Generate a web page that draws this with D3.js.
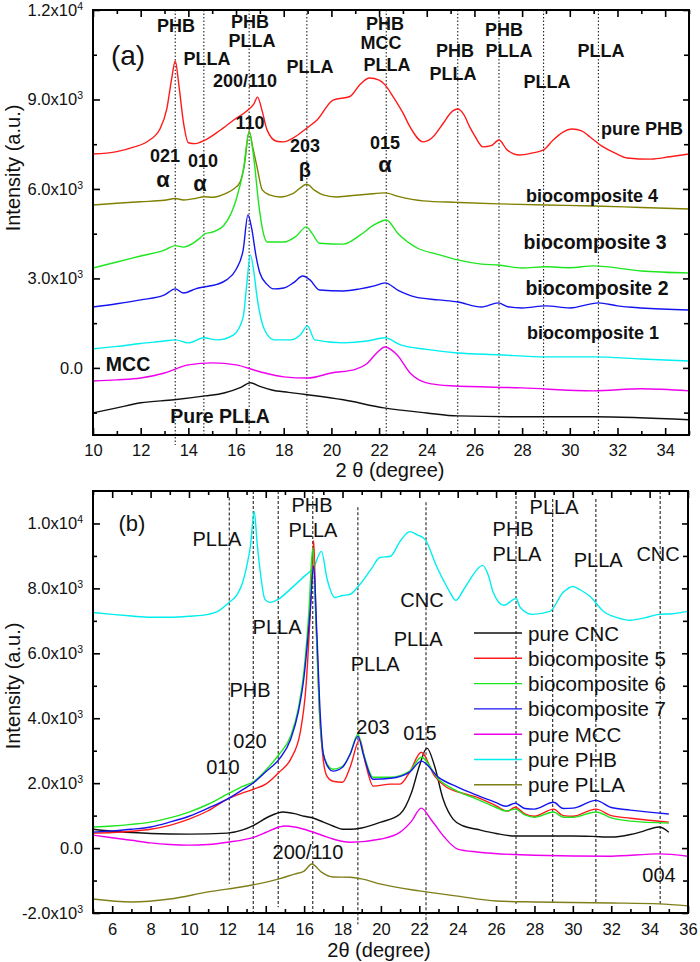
<!DOCTYPE html>
<html>
<head>
<meta charset="utf-8">
<script src="https://cdn.jsdelivr.net/npm/d3@7"></script>
<style>
html,body{margin:0;padding:0;background:#fff;}
svg{display:block;font-family:"Liberation Sans",Arial,sans-serif;}
</style>
</head>
<body>
<svg id="chart" width="700" height="962"></svg>
<script>
// ---------------- DATA: panel (a) ----------------
const xTicksA = [10,12,14,16,18,20,22,24,26,28,30,32,34];
const xMinorA = [11,13,15,17,19,21,23,25,27,29,31,33,35];
const yTicksA = [0,3000,6000,9000,12000];
const yMinorA = [-1500,1500,4500,7500,10500];

const purePHB_a = [[10,7170],[11,7250],[11.7,7400],[12.3,7600],[12.8,8000],[13.1,8700],[13.3,9700],[13.45,10290],[13.6,9500],[13.8,8200],[14.0,7550],[14.3,7520],[14.7,7640],[15.3,7950],[15.9,8310],[16.5,8650],[16.75,8850],[16.9,9080],[17.1,8600],[17.3,7980],[17.7,7600],[18.0,7580],[18.4,7710],[18.97,8040],[19.4,8310],[20.07,8980],[20.78,9100],[21.2,9500],[21.6,9720],[22.0,9650],[22.25,9490],[22.6,9080],[23.0,8550],[23.3,8080],[23.85,7580],[24.2,7700],[24.7,8210],[25.0,8550],[25.3,8680],[25.55,8500],[25.8,8080],[26.0,7800],[26.36,7410],[26.7,7450],[27.03,7640],[27.37,7310],[27.9,7140],[28.4,7200],[28.9,7310],[29.3,7640],[29.7,7900],[30.1,8010],[30.5,7950],[30.85,7740],[31.4,7410],[31.9,7200],[32.4,7040],[33.4,7000],[34.2,7080],[35,7170]];
const bio4_a = [[10,5460],[11,5520],[12,5570],[13,5620],[13.45,5680],[13.8,5630],[14.3,5680],[14.65,5740],[15,5720],[15.6,5860],[15.9,6000],[16.17,6230],[16.35,6800],[16.55,7940],[16.7,7400],[16.88,6740],[17.1,5970],[17.4,5800],[17.85,5730],[18.4,5850],[18.97,6160],[19.3,5950],[19.65,5800],[20.2,5730],[20.78,5770],[21.5,5820],[22.25,5870],[22.8,5750],[23.85,5600],[25.3,5550],[27,5500],[29,5460],[31,5430],[33,5380],[35,5330]];
const bio3_a = [[10,3350],[11,3550],[12,3750],[13,3950],[13.45,4100],[13.8,4050],[14.5,4360],[14.7,4500],[15.0,4550],[15.5,4790],[16.0,5630],[16.3,6600],[16.55,7900],[16.75,7000],[16.95,5500],[17.15,4500],[17.3,4220],[18.0,4220],[18.5,4400],[18.95,4730],[19.2,4500],[19.5,4180],[20.5,4150],[21.2,4450],[21.8,4800],[22.3,4960],[22.8,4500],[23.6,4020],[24.5,3800],[25.3,3620],[26.3,3480],[27.0,3450],[28,3350],[29,3390],[30,3360],[31,3420],[33,3250],[35,3180]];
const bio2_a = [[10,2040],[11,2150],[12,2280],[13,2450],[13.45,2650],[13.8,2510],[14.3,2650],[14.7,2720],[15.2,2800],[15.6,2950],[16.0,3300],[16.3,3960],[16.5,5130],[16.65,4700],[16.85,3700],[17.0,3180],[17.3,2800],[17.57,2650],[18.0,2680],[18.4,2850],[18.8,3080],[19.1,2950],[19.5,2610],[20.5,2580],[21.2,2650],[21.8,2750],[22.25,2850],[22.8,2600],[23.5,2380],[24.5,2280],[25.3,2210],[26.3,2040],[27.0,2180],[27.4,2050],[28,2010],[29,2080],[30,2010],[31.2,2180],[32,2080],[33,2010],[35,1940]];
const bio1_a = [[10,640],[11,720],[12,820],[13,900],[13.45,940],[14,840],[14.65,1010],[15.2,940],[15.9,1110],[16.3,1710],[16.45,2800],[16.6,3790],[16.75,3200],[16.88,2380],[17.2,1270],[17.6,940],[18.3,940],[18.7,1110],[19.0,1410],[19.3,940],[20.5,840],[21.5,900],[22.25,1010],[22.9,770],[24,620],[25.3,500],[27,440],[29,370],[31,370],[33,300],[35,230]];
const mcc_a = [[10,-440],[11,-400],[12,-340],[13,-170],[14,100],[15,170],[16,100],[17,-130],[18,-300],[19,-340],[20,-170],[21,-50],[21.5,150],[21.9,500],[22.25,700],[22.75,440],[23.3,-170],[24,-500],[25,-600],[28,-670],[31,-770],[33,-700],[35,-770]];
const pureLA_a = [[10,-1510],[11,-1340],[12,-1170],[13.4,-1070],[14.7,-940],[15.5,-840],[16.2,-650],[16.6,-500],[17,-620],[17.5,-740],[18.2,-820],[19,-900],[20.5,-1070],[22.2,-1340],[24,-1510],[25.3,-1610],[28,-1640],[31,-1640],[35,-1740]];

const guidesA = [13.45,14.65,16.55,18.97,22.3,25.3,27.03,28.9,31.2];

const labelsA = [
  ["PHB",13.48,11263],["PLLA",14.78,10157],["PHB",16.59,11397],["PLLA",16.67,10760],
  ["200/110",16.38,9419],["110",16.59,8011],["PLLA",19.10,9888],["203",18.89,7240],
  ["021",13.02,6905],["010",14.61,6738],
  ["PHB",22.25,11330],["MCC",22.08,10693],["PLLA",22.33,9955],["015",22.25,7341],
  ["PHB",25.18,10425],["PLLA",25.10,9654],["PHB",27.24,11129],["PLLA",27.45,10425],
  ["PLLA",29.04,9386],["PLLA",31.31,10425],
  ["pure PHB",33.03,7810],["biocomposite 4",30.93,5564],["biocomposite 1",30.97,972]
];
const greekA = [["α",12.94,6067],["α",14.49,5933],["α",22.25,6570]];
const betaA = [["β",18.89,6402]];
const bigLabelsA = [["biocomposite 3",31.06,3989],["biocomposite 2",31.14,2447],["MCC",11.47,-101],["Pure PLLA",15.33,-1844]];

// ---------------- DATA: panel (b) ----------------
const xTicksB = [6,8,10,12,14,16,18,20,22,24,26,28,30,32,34,36];
const xMinorB = [5,7,9,11,13,15,17,19,21,23,25,27,29,31,33,35];
const yTicksB = [-2000,0,2000,4000,6000,8000,10000];
const yMinorB = [-1000,1000,3000,5000,7000,9000];

const purePHB_b = [[5,7260],[6,7200],[7,7150],[8,7110],[9,7110],[10,7140],[11,7200],[11.5,7290],[12.1,7570],[12.5,7800],[12.8,8190],[13.05,8800],[13.2,9290],[13.4,10370],[13.55,9400],[13.7,8580],[13.96,7660],[14.2,7570],[14.64,7660],[15.27,7970],[16.0,8370],[16.5,8650],[16.9,9140],[17.2,8280],[17.6,7720],[18.0,7780],[18.4,7820],[18.9,8120],[19.5,8600],[19.95,8950],[20.5,8990],[21.0,9450],[21.5,9750],[21.9,9650],[22.3,9510],[22.9,8680],[23.3,8200],[23.6,7880],[23.9,7630],[24.3,7950],[24.65,8280],[25.3,8710],[25.6,8400],[25.85,7880],[26.4,7480],[27.05,7690],[27.25,7420],[27.9,7200],[28.8,7290],[29.5,7880],[30.0,8060],[30.4,7950],[30.9,7750],[31.6,7290],[32.3,7100],[33.0,7020],[33.8,7100],[34.5,7200],[35.2,7220],[36,7290]];
const pureCNC_b = [[5,580],[6,520],[7,480],[8,450],[10,430],[12,460],[12.8,560],[13.4,710],[14.2,980],[14.9,1110],[15.5,1060],[16.0,980],[16.5,920],[17.0,800],[17.5,680],[18,580],[18.4,580],[19,620],[20,800],[21,1050],[21.6,1720],[22.0,2520],[22.4,3080],[22.8,2520],[23.24,1510],[23.76,890],[24.3,680],[25,580],[26,450],[27,370],[28.5,370],[30,370],[31,360],[32,340],[33,420],[33.5,490],[34.5,650],[35,490]];
const bio5_b = [[5,460],[6,480],[7,520],[8,580],[9,700],[10,890],[11,1150],[12,1510],[12.8,1700],[13.4,1820],[14.0,1970],[14.7,2340],[15.3,2740],[15.8,3570],[16.1,5000],[16.35,7600],[16.5,9480],[16.62,7000],[16.8,4200],[17.0,2700],[17.2,2200],[17.5,2060],[18.0,2030],[18.4,2500],[18.9,3350],[19.2,2600],[19.6,1910],[20.5,1970],[21.0,1970],[21.5,2340],[22.1,2950],[22.8,2220],[23.4,1880],[24.2,1700],[25.0,1570],[26.0,1300],[26.6,1140],[27.0,1260],[27.5,1050],[28.0,980],[29.0,1200],[29.5,1000],[30.0,980],[31.2,1200],[32,1000],[33,920],[35,800]];
const bio6_b = [[5,650],[6,680],[7,730],[8,800],[9,930],[10,1110],[11,1350],[12,1660],[12.8,1900],[13.4,2060],[14.0,2400],[14.7,2890],[15.3,3450],[15.7,4300],[16.0,5500],[16.25,7300],[16.45,9260],[16.6,7200],[16.8,4200],[17.0,2900],[17.3,2500],[17.5,2430],[18.0,2520],[18.4,2900],[18.8,3510],[19.1,2900],[19.6,2180],[20.5,2180],[21.5,2370],[22.1,2800],[23.0,2120],[24.0,1750],[25.0,1510],[26.0,1250],[26.5,1140],[27.0,1200],[27.5,1020],[28.0,950],[29.0,1110],[29.5,950],[30.0,950],[31.2,1110],[32,930],[33,830],[35,770]];
const bio7_b = [[5,490],[6,530],[7,580],[8,650],[9,800],[10,980],[11,1230],[12,1510],[12.8,1800],[13.4,2030],[14.0,2350],[14.7,2740],[15.3,3350],[15.7,4200],[16.0,5300],[16.3,7200],[16.5,8700],[16.65,6800],[16.85,4000],[17.0,2900],[17.3,2450],[17.5,2370],[18.0,2490],[18.4,2900],[18.8,3450],[19.1,2850],[19.6,2120],[20.5,2150],[21.5,2340],[22.1,2680],[23.0,2180],[24.0,1880],[25.0,1630],[26.0,1400],[26.5,1290],[27.0,1380],[27.5,1220],[28.0,1200],[29.0,1410],[29.5,1220],[30.0,1230],[31.2,1470],[32,1250],[33,1170],[35,1050]];
const pureMCC_b = [[5,400],[6,320],[7,240],[8,160],[9,110],[10,90],[11,110],[12,180],[13.4,340],[14.0,480],[14.7,650],[15.0,680],[15.5,650],[16,580],[17,380],[17.5,280],[18.4,180],[20,280],[21,490],[21.6,830],[22.1,1230],[22.6,890],[23.3,340],[24,-30],[25,-120],[28,-220],[32,-250],[34.5,-180],[36,-250]];
const pureLA_b = [[5,-1570],[7,-1660],[9,-1570],[11,-1350],[13,-1170],[14.7,-950],[15.5,-800],[16.0,-710],[16.4,-490],[16.9,-740],[17.5,-890],[18.4,-900],[19,-950],[20,-1110],[22,-1320],[24,-1480],[26,-1630],[28,-1660],[32,-1690],[34.5,-1720],[36,-1780]];

const guidesB = [[12.1,10800,-1100],[13.35,11000,-2000],[14.65,11000,-1820],[16.45,11000,-2000],[18.8,10500,-2350],[22.35,10650,-2650],[27.04,11000,-1720],[28.95,10750,-1720],[31.2,10750,-1720],[34.55,11000,-1720]];

const labelsB = [
  ["PLLA",11.46,9293],["PHB",16.41,10339],["PLLA",16.46,9569],["PLLA",14.59,6585],
  ["PHB",13.18,4646],["020",13.18,3077],["010",11.77,2277],["200/110",16.20,-338],
  ["203",19.59,3508],["015",22.04,3323],["CNC",22.14,7416],["PLLA",21.94,6216],
  ["PLLA",19.70,5446],["PHB",26.89,9600],["PLLA",27.09,8831],["PLLA",29.02,10277],
  ["PLLA",31.32,8646],["CNC",34.44,8831],["004",34.49,-1046]
];

const legendNames = ["pure CNC","biocomposite 5","biocomposite 6","biocomposite 7","pure MCC","pure PHB","pure PLLA"];

// ---------------- STYLES ----------------
const C = {red:"#ff1a1a", olive:"#808000", green:"#1ee61e", blue:"#1414f0", cyan:"#00eeee", magenta:"#ee00ee", black:"#111111", oliveB:"#7f7f1a"};

const svg = d3.select("#chart");
const FONT = "'Liberation Sans', Arial, sans-serif";

function fmtSci(sel){
  sel.each(function(d){
    const t = d3.select(this);
    t.text(null);
    if (d === 0){ t.text("0.0"); return; }
    const e = Math.floor(Math.log10(Math.abs(d)));
    const m = (d/Math.pow(10,e)).toFixed(1);
    t.append("tspan").text(m + "x10");
    t.append("tspan").attr("font-size","10.5px").attr("dy","-0.55em").text(e);
  });
}

function panel(opt){
  const g = svg.append("g");
  const x = d3.scaleLinear().domain(opt.xd).range([opt.l, opt.r]);
  const y = d3.scaleLinear().domain(opt.yd).range([opt.b, opt.t]);
  const w = opt.r - opt.l, h = opt.b - opt.t;

  opt.guides(g, x, y);

  const line = d3.line().x(d=>x(d[0])).y(d=>y(d[1])).curve(d3.curveMonotoneX);
  opt.series.forEach(s=>{
    g.append("path").datum(s.data).attr("d", line)
      .attr("fill","none").attr("stroke", s.color).attr("stroke-width",1.4).attr("stroke-linejoin","round");
  });

  const fs = "16.5px";
  const ax = (gen, tr) => {
    const a = g.append("g").attr("transform", tr).call(gen);
    a.select(".domain").remove();
    a.selectAll(".tick line").attr("stroke","#000").attr("stroke-width",1.6);
    a.selectAll("text").attr("font-size",fs).attr("font-family",FONT).attr("fill","#111");
    return a;
  };
  ax(d3.axisBottom(x).tickValues(opt.xMaj).tickSizeInner(-7).tickSizeOuter(0).tickPadding(opt.xpad).tickFormat(d3.format("d")), `translate(0,${opt.b})`);
  ax(d3.axisBottom(x).tickValues(opt.xMin).tickSizeInner(-4).tickSizeOuter(0).tickFormat(""), `translate(0,${opt.b})`);
  ax(d3.axisTop(x).tickValues(opt.xMaj).tickSizeInner(-7).tickSizeOuter(0).tickFormat(""), `translate(0,${opt.t})`);
  ax(d3.axisTop(x).tickValues(opt.xMin).tickSizeInner(-4).tickSizeOuter(0).tickFormat(""), `translate(0,${opt.t})`);
  const yl = ax(d3.axisLeft(y).tickValues(opt.yMaj).tickSizeInner(-7).tickSizeOuter(0).tickPadding(10), `translate(${opt.l},0)`);
  yl.selectAll(".tick text").call(fmtSci);
  ax(d3.axisLeft(y).tickValues(opt.yMin).tickSizeInner(-4).tickSizeOuter(0).tickFormat(""), `translate(${opt.l},0)`);
  ax(d3.axisRight(y).tickValues(opt.yMaj).tickSizeInner(-6).tickSizeOuter(0).tickFormat(""), `translate(${opt.r},0)`);
  ax(d3.axisRight(y).tickValues(opt.yMin).tickSizeInner(-5).tickSizeOuter(0).tickFormat(""), `translate(${opt.r},0)`);

  g.append("rect").attr("x",opt.l).attr("y",opt.t).attr("width",w).attr("height",h)
    .attr("fill","none").attr("stroke","#000").attr("stroke-width",2);

  g.append("text").attr("transform",`translate(${opt.ytx},${opt.yty}) rotate(-90)`)
    .attr("text-anchor","middle").attr("font-size","20px").attr("font-family",FONT).attr("fill","#111")
    .text("Intensity (a.u.)");
  g.append("text").attr("x",opt.xtx).attr("y",opt.xty).attr("text-anchor","middle")
    .attr("font-size","20px").attr("font-family",FONT).attr("fill","#111").text(opt.xtitle);

  return {g,x,y};
}

// ---------------- PANEL (a) ----------------
const A = panel({
  l:93, r:689, t:10, b:435, xd:[10,35], yd:[-2250,12000],
  xMaj:xTicksA, xMin:xMinorA, yMaj:yTicksA, yMin:yMinorA, xpad:9.5,
  ytx:20, yty:168, xtx:390, xty:477, xtitle:"2 θ (degree)",
  guides:(g,x,y)=>{
    guidesA.forEach((v,i)=>{
      g.append("line").attr("x1",x(v)).attr("x2",x(v))
        .attr("y1",y(12000)).attr("y2", i===0 ? y(-2250)+10 : y(-2250))
        .attr("stroke","#222").attr("stroke-width",1.1).attr("stroke-dasharray","1.5,2");
    });
  },
  series:[
    {data:purePHB_a,color:C.red},{data:bio4_a,color:C.olive},{data:bio3_a,color:C.green},
    {data:bio2_a,color:C.blue},{data:bio1_a,color:C.cyan},{data:mcc_a,color:C.magenta},{data:pureLA_a,color:C.black}
  ]
});
function addLabels(P, arr, size, weight){
  P.g.selectAll(null).data(arr).enter().append("text")
    .attr("x",d=>P.x(d[1])).attr("y",d=>P.y(d[2])).attr("text-anchor","middle")
    .attr("font-size",size).attr("font-weight",weight).attr("font-family",FONT).attr("fill","#111")
    .text(d=>d[0]);
}
addLabels(A, labelsA, "18px", "bold");
addLabels(A, bigLabelsA, "19.5px", "bold");
addLabels(A, greekA, "22px", "bold");
addLabels(A, betaA, "20px", "bold");
addLabels(A, [["(a)",11.47,10157]], "28px", "normal");

// ---------------- PANEL (b) ----------------
const B = panel({
  l:93, r:688, t:491, b:913, xd:[5,36], yd:[-2000,11000],
  xMaj:xTicksB, xMin:xMinorB, yMaj:yTicksB, yMin:yMinorB, xpad:10,
  ytx:20, yty:686, xtx:379, xty:957, xtitle:"2θ (degree)",
  guides:(g,x,y)=>{
    guidesB.forEach(d=>{
      g.append("line").attr("x1",x(d[0])).attr("x2",x(d[0]))
        .attr("y1",y(d[1])).attr("y2",y(d[2]))
        .attr("stroke","#222").attr("stroke-width",1.1).attr("stroke-dasharray","3,2");
    });
  },
  series:[
    {data:purePHB_b,color:C.cyan},{data:pureLA_b,color:C.oliveB},{data:pureMCC_b,color:C.magenta},
    {data:pureCNC_b,color:C.black},{data:bio5_b,color:C.red},{data:bio6_b,color:C.green},{data:bio7_b,color:C.blue}
  ]
});
addLabels(B, labelsB, "20px", "normal");
addLabels(B, [["(b)",7.03,9754]], "22px", "normal");

// legend
const legColors = [C.black, C.red, C.green, C.blue, C.magenta, C.cyan, C.oliveB];
const lg = B.g.append("g").attr("transform","translate(474,633)");
legendNames.forEach((n,i)=>{
  const row = lg.append("g").attr("transform",`translate(0,${i*25.3})`);
  row.append("line").attr("x1",0).attr("x2",48).attr("y1",0).attr("y2",0)
    .attr("stroke",legColors[i]).attr("stroke-width",1.4);
  row.append("text").attr("x",54).attr("y",7.5).attr("font-size","20.5px").attr("font-family",FONT)
    .attr("fill","#111").text(n);
});
</script>
</body>
</html>
